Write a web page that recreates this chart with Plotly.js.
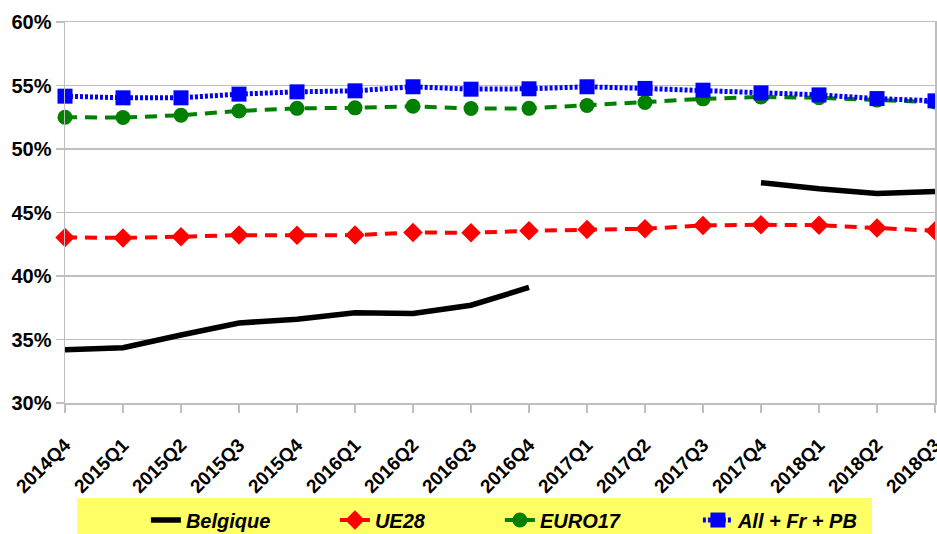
<!DOCTYPE html>
<html>
<head>
<meta charset="utf-8">
<script src="https://cdn.plot.ly/plotly-3.0.1.min.js"></script>
<style>html,body{margin:0;padding:0;background:#fff;}#chart{width:937px;height:534px;}</style>
</head>
<body>
<div id="chart"></div>
<script>
var categories = ["2014Q4","2015Q1","2015Q2","2015Q3","2015Q4","2016Q1","2016Q2","2016Q3","2016Q4","2017Q1","2017Q2","2017Q3","2017Q4","2018Q1","2018Q2","2018Q3"];
var belgique = [0.342,0.3435,0.3535,0.363,0.366,0.371,0.3705,0.377,0.391,null,null,null,0.4735,0.4687,0.465,0.4666];
var ue28 = [0.4304,0.430,0.4309,0.4322,0.432,0.4322,0.4343,0.434,0.4356,0.4367,0.4372,0.4398,0.4403,0.440,0.4377,0.4356];
var euro17 = [0.525,0.5248,0.5266,0.530,0.532,0.5324,0.5337,0.5319,0.532,0.5343,0.5366,0.5395,0.541,0.5403,0.5385,0.537];
var allFrPb = [0.5416,0.5403,0.5403,0.5432,0.545,0.5458,0.549,0.5471,0.5474,0.549,0.5477,0.5463,0.5442,0.5426,0.5397,0.5379];
var seriesNames = ["Belgique","UE28","EURO17","All + Fr + PB"];
var yTicks = [0.30,0.35,0.40,0.45,0.50,0.55,0.60];
var yTickLabels = ["30%","35%","40%","45%","50%","55%","60%"];

var FONT = "Liberation Sans, Arial, sans-serif";
var traces = [
  {x: categories, y: belgique, name: seriesNames[0], type: "scatter", mode: "lines",
   line: {color: "#000000", width: 5.5}, connectgaps: false, cliponaxis: false, legendwidth: 144},
  {x: categories, y: ue28, name: seriesNames[1], type: "scatter", mode: "lines+markers",
   line: {color: "#ff0000", width: 4, dash: "12px,8px"},
   marker: {symbol: "diamond", size: 15, color: "#ff0000"}, cliponaxis: false, legendwidth: 120},
  {x: categories, y: euro17, name: seriesNames[2], type: "scatter", mode: "lines+markers",
   line: {color: "#008000", width: 4, dash: "12px,8px"},
   marker: {symbol: "circle", size: 15, color: "#008000"}, cliponaxis: false, legendwidth: 153},
  {x: categories, y: allFrPb, name: seriesNames[3], type: "scatter", mode: "lines+markers",
   line: {color: "#0000ff", width: 5, dash: "3px,2px"},
   marker: {symbol: "square", size: 15, color: "#0000ff"}, cliponaxis: false, legendwidth: 130}
];

var layout = {
  width: 937, height: 534,
  margin: {l: 65, r: 2, t: 22, b: 131, autoexpand: false},
  paper_bgcolor: "#ffffff", plot_bgcolor: "#ffffff",
  showlegend: true,
  font: {family: FONT, color: "#000000"},
  xaxis: {
    type: "category", range: [0, 15], showgrid: false,
    showline: true, linecolor: "#bfbfbf", linewidth: 1.5, mirror: true,
    ticks: "outside", ticklen: 8, tickcolor: "#bfbfbf", tickwidth: 1.5,
    tickangle: -45, ticklabelstandoff: 14,
    tickfont: {family: FONT, size: 19, weight: "bold", color: "#000"},
    zeroline: false, automargin: false
  },
  yaxis: {
    range: [0.30, 0.60], tickvals: yTicks, ticktext: yTickLabels,
    showgrid: true, gridcolor: "#bfbfbf", gridwidth: 1.5,
    showline: true, linecolor: "#bfbfbf", linewidth: 1.5, mirror: true,
    ticks: "outside", ticklen: 8, tickcolor: "#bfbfbf", tickwidth: 1.5,
    tickfont: {family: FONT, size: 20, weight: "bold", color: "#000"},
    zeroline: false, automargin: false
  },
  shapes: [{
    type: "rect", xref: "paper", yref: "paper", layer: "below",
    x0: 0.0138, x1: 0.9276, y0: -0.2493, y1: -0.36,
    fillcolor: "#ffff66", line: {width: 0}
  }],
  legend: {
    orientation: "h", xanchor: "left", yanchor: "top",
    x: 0.093, y: -0.256,
    bgcolor: "rgba(0,0,0,0)", borderwidth: 0,
    font: {family: FONT, size: 20, weight: "bold", style: "italic", color: "#000"},
    entrywidthmode: "pixels", tracegroupgap: 0
  }
};

Plotly.newPlot("chart", traces, layout, {displayModeBar: false, staticPlot: true});
</script>
</body>
</html>
